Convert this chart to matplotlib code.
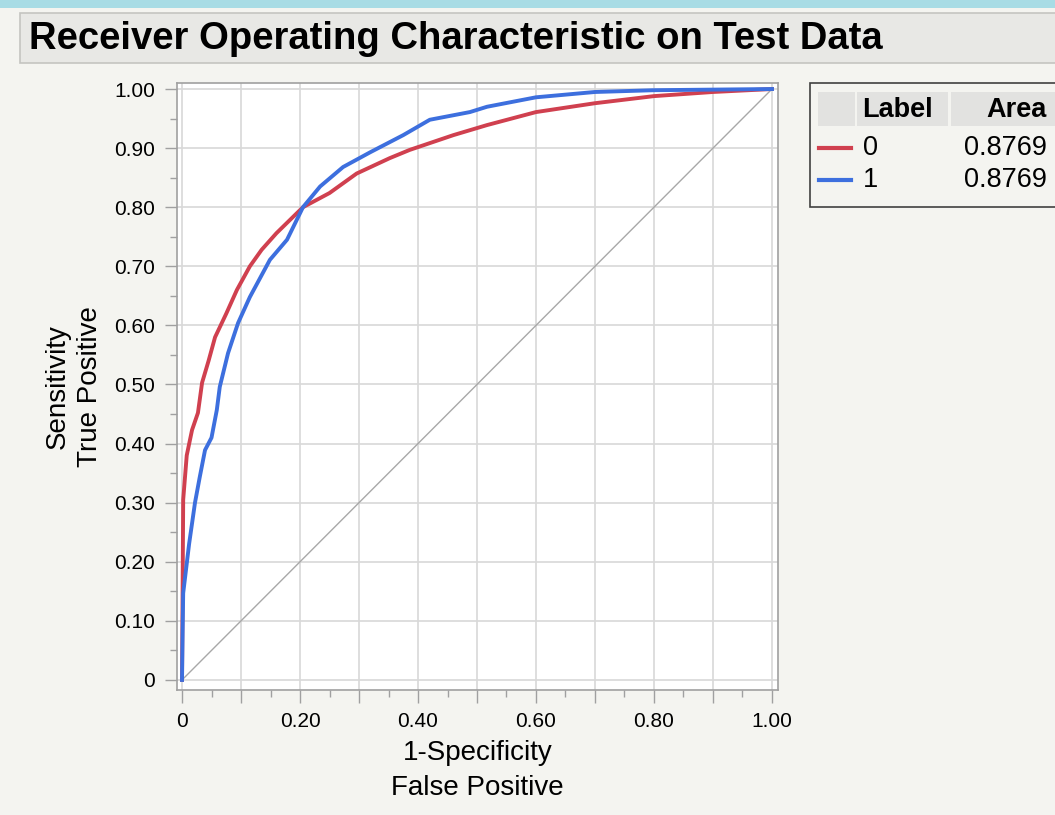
import matplotlib.pyplot as plt
from matplotlib.patches import Rectangle
from matplotlib.ticker import MultipleLocator

plt.rcParams['font.family'] = ['Liberation Sans', 'DejaVu Sans']

# ROC curves
fpr_0 = [0.0, 0.001, 0.002, 0.008, 0.017, 0.027, 0.034, 0.045, 0.056, 0.075, 0.093,
         0.115, 0.135, 0.16, 0.205, 0.25, 0.296, 0.352, 0.386, 0.46, 0.517, 0.6,
         0.7, 0.8, 0.9, 1.0]
tpr_0 = [0.0, 0.15, 0.305, 0.38, 0.423, 0.452, 0.503, 0.54, 0.58, 0.62, 0.66,
         0.70, 0.728, 0.756, 0.80, 0.824, 0.857, 0.883, 0.897, 0.922, 0.939, 0.961,
         0.976, 0.988, 0.995, 1.0]
fpr_1 = [0.0, 0.001, 0.002, 0.012, 0.022, 0.03, 0.039, 0.05, 0.059, 0.064, 0.078,
         0.095, 0.115, 0.149, 0.178, 0.205, 0.234, 0.273, 0.319, 0.375, 0.42,
         0.488, 0.517, 0.6, 0.7, 0.8, 0.9, 1.0]
tpr_1 = [0.0, 0.08, 0.147, 0.23, 0.30, 0.343, 0.389, 0.41, 0.457, 0.496, 0.553,
         0.604, 0.648, 0.711, 0.745, 0.80, 0.835, 0.868, 0.893, 0.922, 0.948,
         0.961, 0.97, 0.986, 0.995, 0.998, 0.999, 1.0]
labels = ['0', '1']
areas = ['0.8769', '0.8769']
colors = ['#d0404f', '#3d6fde']

bg = '#f4f4f0'
fig = plt.figure(figsize=(10.55, 8.15), dpi=100, facecolor=bg)

# top band and title box
fig.patches.append(Rectangle((0, 1 - 8 / 815), 1, 8 / 815, transform=fig.transFigure,
                             facecolor='#a8dce5', edgecolor='none'))
fig.patches.append(Rectangle((20 / 1055, 1 - 63 / 815), 1.0, 50 / 815, transform=fig.transFigure,
                             facecolor='#e8e8e5', edgecolor='#c4c4c0', linewidth=1.2))
fig.text(29 / 1055, 1 - 39 / 815, 'Receiver Operating Characteristic on Test Data',
         fontsize=27.5, fontweight='bold', va='center', ha='left')

ax = fig.add_axes([177 / 1055, 1 - 690 / 815, 601 / 1055, 607 / 815])
ax.set_facecolor('white')
ax.plot([0, 1], [0, 1], color='#a8a8a8', linewidth=1.0)
ax.plot(fpr_0, tpr_0, color=colors[0], linewidth=2.8)
ax.plot(fpr_1, tpr_1, color=colors[1], linewidth=2.8)

ax.set_xlim(-0.0085, 1.0102)
ax.set_ylim(-0.017, 1.0102)

ax.xaxis.set_minor_locator(MultipleLocator(0.05))
ax.yaxis.set_minor_locator(MultipleLocator(0.05))
xt = [i / 10 for i in range(11)]
ax.set_xticks(xt)
ax.set_xticklabels(['0' if i == 0 else (f'{v:.2f}' if i % 2 == 0 else '') for i, v in enumerate(xt)])
yt = [i / 10 for i in range(11)]
ax.set_yticks(yt)
ax.set_yticklabels(['0' if i == 0 else f'{v:.2f}' for i, v in enumerate(yt)])

ax.grid(True, which='major', color='#d8d8d8', linewidth=1.2)
ax.set_axisbelow(True)
for s in ax.spines.values():
    s.set_color('#a0a0a0')
    s.set_linewidth(1.2)
ax.tick_params(which='major', length=9, width=1.0, color='#a0a0a0', labelsize=15, pad=7)
ax.tick_params(which='minor', length=5, width=1.0, color='#a0a0a0')

ax.set_xlabel('1-Specificity\nFalse Positive', fontsize=20, linespacing=1.45, labelpad=6)
ax.set_ylabel('Sensitivity\nTrue Positive', fontsize=20, linespacing=1.3, labelpad=8)

# legend table
fig.patches.append(Rectangle((810 / 1055, 1 - 207 / 815), 1.0, 124 / 815, transform=fig.transFigure,
                             facecolor=bg, edgecolor='#404040', linewidth=1.2))
for x0, x1 in [(818, 855), (857, 948), (951, 1060)]:
    fig.patches.append(Rectangle((x0 / 1055, 1 - 126 / 815), (x1 - x0) / 1055, 34 / 815,
                                 transform=fig.transFigure, facecolor='#e2e2e0', edgecolor='none'))
fig.text(897 / 1055, 1 - 110 / 815, 'Label', fontsize=19.5, fontweight='bold', ha='center', va='center')
fig.text(1047 / 1055, 1 - 110 / 815, 'Area', fontsize=19.5, fontweight='bold', ha='right', va='center')
for i, (lab, area, c) in enumerate(zip(labels, areas, colors)):
    yy = 1 - (148 + 32 * i) / 815
    fig.add_artist(plt.Line2D([819 / 1055, 851 / 1055], [yy, yy], transform=fig.transFigure,
                              color=c, linewidth=3.0))
    fig.text(863 / 1055, yy, lab, fontsize=19.5, ha='left', va='center')
    fig.text(1047 / 1055, yy, area, fontsize=19.5, ha='right', va='center')

fig.savefig('out.png', dpi=100, facecolor=bg)
